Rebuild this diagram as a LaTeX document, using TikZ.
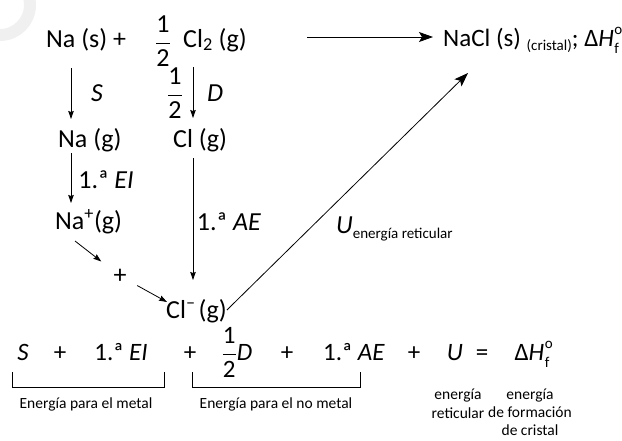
\documentclass[tikz,border=0pt]{standalone}
\usepackage{fontspec}
\setmainfont{Carlito}
\usetikzlibrary{arrows.meta}
\newcommand\half{$\displaystyle\frac{\mbox{1}}{\mbox{2}}$}
\newcommand\smallsz{\fontsize{15}{15}\selectfont}
\newcommand\dHf{Δ\textit{H}\kern0.5pt\rlap{\raisebox{0.45em}{\smallsz o}}\raisebox{-0.28em}{\smallsz f}}
\tikzset{
  species/.style={font=\fontsize{26}{30}\selectfont, inner sep=1pt},
  eqterm/.style={font=\fontsize{25}{28}\selectfont, inner sep=1pt, anchor=base},
  note/.style={font=\fontsize{15.5}{18.5}\selectfont, align=center, inner sep=0pt},
  steparrow/.style={line width=0.8pt, -{Stealth[length=8pt, width=5.5pt, inset=1pt]}},
  longarrow/.style={line width=0.8pt, -{Stealth[length=14pt, width=10pt, inset=3pt]}}
}
\begin{document}
\begin{tikzpicture}[x=1pt, y=-1pt]
\useasboundingbox (0,0) rectangle (622,440);
% faint ring in the corner
\draw[line width=12pt, black!6] (0,5) circle (30);

% top row
\node[species, anchor=base west] (nas) at (45,47) {Na (s) +};
\node[species] (half1) at (163,41) {\half};
\node[species, anchor=base west] (cl2) at (182,47) {Cl\textsubscript{2} (g)};
\node[species, font=\fontsize{25}{28}\selectfont, anchor=base west] (nacl) at (442,46)
  {NaCl (s) \raisebox{-4pt}{\smallsz (cristal)}; \dHf};
\coordinate (hstart) at (307,37);
\coordinate (hend) at (433,37);
\draw[longarrow] (hstart) -- (hend);

% columns of the steps
\coordinate (colna) at (71,0);
\coordinate (colcl) at (193,0);

\node[species, anchor=base west] (nag) at (57,147) {Na (g)};
\node[species, anchor=base west] (clg) at (172,147) {Cl (g)};
\node[species, anchor=base west] (nap) at (54,229) {Na\textsuperscript{+}(g)};
\node[species, anchor=base west] (clm) at (165,318) {Cl\textsuperscript{–}\kern3pt(g)};
\node[species] (plus) at (120,276) {+};

\draw[steparrow, shorten <=21pt, shorten >=28pt] (nas.base -| colna) -- (nag.base -| colna);
\draw[steparrow, shorten <=6pt, shorten >=26pt] (nag.base -| colna) -- (nap.base -| colna);
\draw[steparrow, shorten <=20pt, shorten >=29pt] (cl2.base -| colcl) -- (clg.base -| colcl);
\draw[steparrow, shorten <=11pt, shorten >=38pt] (clg.base -| colcl) -- (clm.base -| colcl);
\draw[steparrow, shorten >=14pt] ([shift={(21pt,-12pt)}]nap.base west) -- (plus);
\draw[steparrow, shorten <=11pt] (plus) -- ([shift={(2pt,16pt)}]clm.base west);
\coordinate (utip) at (468,73);
\draw[longarrow] ([shift={(-1pt,8pt)}]clm.base east) -- (utip);

% step labels
\node[species] (lbls) at (97,93) {\textit{S}};
\node[species] (half2) at (175,93) {\half};
\node[species] (lbld) at (215,93) {\textit{D}};
\node[species] (lblei) at (106,180) {1.ª \textit{EI}};
\node[species] (lblae) at (229,222) {1.ª \textit{AE}};
\node[species, anchor=base west] (lblu) at (335,233) {\textit{U}\raisebox{-5pt}{\smallsz energía reticular}};

% energy balance
\node[eqterm] (es) at (23,360) {\textit{S}};
\node[eqterm] (ep1) at (60,360) {+};
\node[eqterm] (eei) at (121,360) {1.ª \textit{EI}};
\node[eqterm] (ep2) at (190,360) {+};
\node[eqterm] (ed) at (237,360) {\half\textit{D}};
\node[eqterm] (ep3) at (287,360) {+};
\node[eqterm] (eae) at (354,360) {1.ª \textit{AE}};
\node[eqterm] (ep4) at (414,360) {+};
\node[eqterm] (eu) at (455,360) {\textit{U}};
\node[eqterm] (eeq) at (482,360) {=};
\node[eqterm] (eh) at (532,360) {\dHf};

% brackets
\draw[line width=0.8pt] (12,372) |- (164,387) -- (164,372);
\draw[line width=0.8pt] (192,372) |- (360,387) -- (360,372);

\node[note] (nmetal) at (86,404) {Energía para el metal};
\node[note] (nnometal) at (276,404) {Energía para el no metal};
\node[note] (nret) at (458,404) {energía\\reticular};
\node[note, font=\fontsize{15.5}{18}\selectfont] (nform) at (530,412) {energía\\de formación\\de cristal};
\end{tikzpicture}
\end{document}
